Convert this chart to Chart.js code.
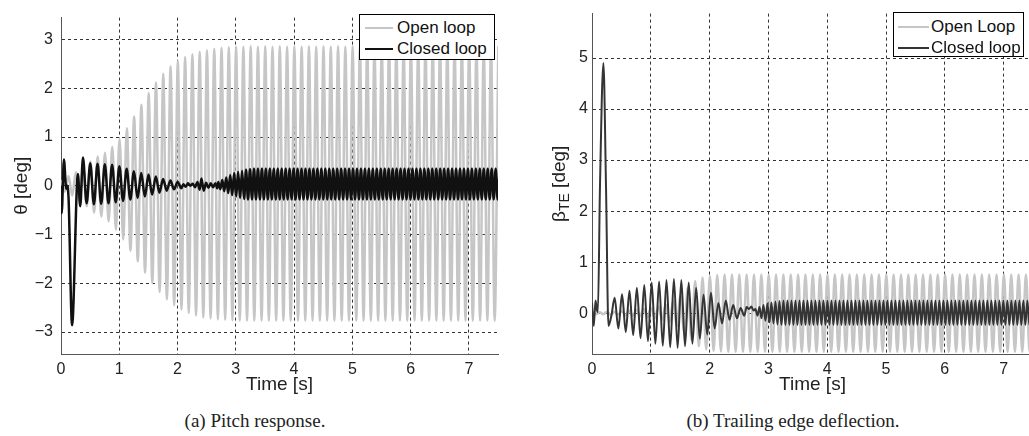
<!DOCTYPE html>
<html>
<head>
<meta charset="utf-8">
<script src="https://cdn.jsdelivr.net/npm/chart.js@4.4.0/dist/chart.umd.min.js"></script>
<style>
  html, body { margin: 0; padding: 0; background: #fff; overflow: hidden; }
  body { position: relative; width: 1029px; height: 436px; }
  canvas { position: absolute; top: 0; }
  .legend { position: absolute; background: #fff; border: 1px solid #000; box-sizing: border-box;
            font: 17px "Liberation Sans", Arial, sans-serif; color: #111; }
  .legend .row { position: absolute; left: 0; right: 0; height: 20px; line-height: 20px; white-space: nowrap; }
  .legend .swatch { position: absolute; top: 9px; height: 0; border-top: 2px solid; }
  .legend .label { position: absolute; top: 0; }
  .caption { position: absolute; top: 410px; font: 19px "Liberation Serif", "Times New Roman", serif;
             color: #222; transform: translateX(-50%); white-space: nowrap; }
</style>
</head>
<body>
<canvas id="pitch" width="510" height="400" style="left:0;width:510px;height:400px"></canvas>
<canvas id="te" width="520" height="400" style="left:520px;width:520px;height:400px"></canvas>
<div class="caption" style="left:255px">(a) Pitch response.</div>
<div class="caption" style="left:793px">(b) Trailing edge deflection.</div>
<script>
// ---- axes ----
const timeTicks = [0, 1, 2, 3, 4, 5, 6, 7];
const pitchTicks = [-3, -2, -1, 0, 1, 2, 3];
const teTicks = [0, 1, 2, 3, 4, 5];

// ---- pitch response, open loop: one peak and one trough per cycle ----
const openStart = 0.005;
const openPeriod = 0.125;
const openPitchPeaks = [
  0.12, 0.20, 0.28, 0.38, 0.50, 0.60, 0.68, 0.80, 0.96, 1.18,
  1.42, 1.66, 1.90, 2.12, 2.30, 2.45, 2.56, 2.64, 2.70, 2.75,
  2.78, 2.81, 2.83, 2.84, 2.85, 2.85, 2.86, 2.85, 2.86, 2.85,
  2.86, 2.85, 2.86, 2.85, 2.86, 2.85, 2.86, 2.85, 2.86, 2.85,
  2.86, 2.85, 2.86, 2.85, 2.86, 2.85, 2.86, 2.85, 2.86, 2.85,
  2.86, 2.85, 2.86, 2.85, 2.86, 2.85, 2.86, 2.85, 2.86, 2.85,
  2.86
];
const openPitchTroughs = [
  -0.12, -0.20, -0.30, -0.42, -0.55, -0.63, -0.73, -0.90, -1.10, -1.33,
  -1.55, -1.78, -2.00, -2.18, -2.33, -2.45, -2.54, -2.61, -2.66, -2.70,
  -2.72, -2.74, -2.75, -2.76, -2.77, -2.77, -2.77, -2.77, -2.77, -2.77,
  -2.77, -2.77, -2.77, -2.77, -2.77, -2.77, -2.77, -2.77, -2.77, -2.77,
  -2.77, -2.77, -2.77, -2.77, -2.77, -2.77, -2.77, -2.77, -2.77, -2.77,
  -2.77, -2.77, -2.77, -2.77, -2.77, -2.77, -2.77, -2.77, -2.77, -2.77
];

// ---- pitch response, closed loop ----
const closedPitchEarlyT = [0, 0.012, 0.05, 0.09, 0.105, 0.13, 0.19, 0.29, 0.33];
const closedPitchEarlyY = [0, -0.56, 0.54, -0.06, 0.0, -0.26, -2.86, 0.24, -0.42];
const closedPitchDecayStart = 0.377;
const closedPitchDecayPeaks = [0.58, 0.46, 0.45, 0.44, 0.43, 0.40, 0.35, 0.30, 0.26, 0.23, 0.19, 0.14, 0.11, 0.08];
const closedPitchDecayTroughs = [-0.36, -0.38, -0.37, -0.36, -0.34, -0.31, -0.28, -0.25, -0.22, -0.18, -0.14, -0.10, -0.07, -0.05];
const closedPitchQuietT = [2.10, 2.14, 2.18, 2.22, 2.26, 2.30, 2.34, 2.38, 2.41, 2.45, 2.49, 2.53, 2.57, 2.61, 2.65, 2.68];
const closedPitchQuietY = [0.03, -0.02, 0.05, 0.00, 0.04, -0.03, 0.08, -0.08, 0.15, -0.10, 0.06, -0.04, 0.05, -0.03, 0.05, -0.05];
const fastPeriod = 0.068;
const closedPitchFastStart = 2.70;
const closedPitchFastPeaks = [
  0.08, 0.12, 0.17, 0.22, 0.26, 0.29, 0.31, 0.33, 0.34, 0.35,
  0.35, 0.35, 0.35, 0.35, 0.35, 0.35, 0.35, 0.35, 0.35, 0.35,
  0.35, 0.35, 0.35, 0.35, 0.35, 0.35, 0.35, 0.35, 0.35, 0.35,
  0.35, 0.35, 0.35, 0.35, 0.35, 0.35, 0.35, 0.35, 0.35, 0.35,
  0.35, 0.35, 0.35, 0.35, 0.35, 0.35, 0.35, 0.35, 0.35, 0.35,
  0.35, 0.35, 0.35, 0.35, 0.35, 0.35, 0.35, 0.35, 0.35, 0.35,
  0.35, 0.35, 0.35, 0.35, 0.35, 0.35, 0.35, 0.35, 0.35, 0.35,
  0.35, 0.35
];
const closedPitchFastTroughs = [
  -0.07, -0.11, -0.15, -0.19, -0.22, -0.25, -0.27, -0.28, -0.28, -0.28,
  -0.28, -0.28, -0.28, -0.28, -0.28, -0.28, -0.28, -0.28, -0.28, -0.28,
  -0.28, -0.28, -0.28, -0.28, -0.28, -0.28, -0.28, -0.28, -0.28, -0.28,
  -0.28, -0.28, -0.28, -0.28, -0.28, -0.28, -0.28, -0.28, -0.28, -0.28,
  -0.28, -0.28, -0.28, -0.28, -0.28, -0.28, -0.28, -0.28, -0.28, -0.28,
  -0.28, -0.28, -0.28, -0.28, -0.28, -0.28, -0.28, -0.28, -0.28, -0.28,
  -0.28, -0.28, -0.28, -0.28, -0.28, -0.28, -0.28, -0.28, -0.28, -0.28,
  -0.28
];

// ---- trailing edge deflection, open loop ----
const openTEPeaks = [
  0.02, 0.02, 0.03, 0.03, 0.04, 0.05, 0.06, 0.08, 0.10, 0.13,
  0.17, 0.24, 0.35, 0.50, 0.63, 0.70, 0.73, 0.75, 0.76, 0.76,
  0.76, 0.76, 0.76, 0.76, 0.76, 0.76, 0.76, 0.76, 0.76, 0.76,
  0.76, 0.76, 0.76, 0.76, 0.76, 0.76, 0.76, 0.76, 0.76, 0.76,
  0.76, 0.76, 0.76, 0.76, 0.76, 0.76, 0.76, 0.76, 0.76, 0.76,
  0.76, 0.76, 0.76, 0.76, 0.76, 0.76, 0.76, 0.76, 0.76, 0.76,
  0.76
];
const openTETroughs = [
  -0.02, -0.02, -0.03, -0.03, -0.04, -0.05, -0.06, -0.08, -0.10, -0.13,
  -0.18, -0.26, -0.38, -0.53, -0.65, -0.71, -0.74, -0.75, -0.76, -0.76,
  -0.76, -0.76, -0.76, -0.76, -0.76, -0.76, -0.76, -0.76, -0.76, -0.76,
  -0.76, -0.76, -0.76, -0.76, -0.76, -0.76, -0.76, -0.76, -0.76, -0.76,
  -0.76, -0.76, -0.76, -0.76, -0.76, -0.76, -0.76, -0.76, -0.76, -0.76,
  -0.76, -0.76, -0.76, -0.76, -0.76, -0.76, -0.76, -0.76, -0.76, -0.76
];

// ---- trailing edge deflection, closed loop ----
const closedTEEarlyT = [0, 0.03, 0.06, 0.085, 0.10, 0.136, 0.194, 0.238, 0.28, 0.33];
const closedTEEarlyY = [0.2, -0.25, 0.25, 0.05, 0.02, 2.5, 4.9, 2.5, -0.25, -0.05];
const closedTEDecayStart = 0.385;
const closedTEDecayPeriod = 0.126;
const closedTEDecayPeaks = [0.30, 0.37, 0.44, 0.50, 0.55, 0.60, 0.62, 0.65, 0.67, 0.65, 0.60, 0.50, 0.36, 0.40, 0.20, 0.25, 0.16, 0.10];
const closedTEDecayTroughs = [-0.30, -0.37, -0.43, -0.49, -0.55, -0.60, -0.64, -0.67, -0.68, -0.65, -0.60, -0.50, -0.42, -0.30, -0.20, -0.13, -0.10, -0.05];
const closedTEQuietT = [2.63, 2.67, 2.71, 2.75];
const closedTEQuietY = [0.12, 0.08, 0.13, 0.05];
const closedTEFastStart = 2.78;
const closedTEFastPeaks = [
  0.08, 0.12, 0.16, 0.19, 0.21, 0.23, 0.24, 0.25, 0.25, 0.25,
  0.25, 0.25, 0.25, 0.25, 0.25, 0.25, 0.25, 0.25, 0.25, 0.25,
  0.25, 0.25, 0.25, 0.25, 0.25, 0.25, 0.25, 0.25, 0.25, 0.25,
  0.25, 0.25, 0.25, 0.25, 0.25, 0.25, 0.25, 0.25, 0.25, 0.25,
  0.25, 0.25, 0.25, 0.25, 0.25, 0.25, 0.25, 0.25, 0.25, 0.25,
  0.25, 0.25, 0.25, 0.25, 0.25, 0.25, 0.25, 0.25, 0.25, 0.25,
  0.25, 0.25, 0.25, 0.25, 0.25, 0.25, 0.25, 0.25, 0.25, 0.25,
  0.25
];
const closedTEFastTroughs = [
  -0.05, -0.10, -0.15, -0.18, -0.20, -0.22, -0.23, -0.23, -0.23, -0.23,
  -0.23, -0.23, -0.23, -0.23, -0.23, -0.23, -0.23, -0.23, -0.23, -0.23,
  -0.23, -0.23, -0.23, -0.23, -0.23, -0.23, -0.23, -0.23, -0.23, -0.23,
  -0.23, -0.23, -0.23, -0.23, -0.23, -0.23, -0.23, -0.23, -0.23, -0.23,
  -0.23, -0.23, -0.23, -0.23, -0.23, -0.23, -0.23, -0.23, -0.23, -0.23,
  -0.23, -0.23, -0.23, -0.23, -0.23, -0.23, -0.23, -0.23, -0.23, -0.23,
  -0.23, -0.23, -0.23, -0.23, -0.23, -0.23, -0.23, -0.23, -0.23, -0.23
];

// peaks at t0 + k*period, troughs half a period later
function cycles(t0, period, peaks, troughs) {
  const pts = [];
  peaks.forEach((p, k) => {
    pts.push({ x: t0 + k * period, y: p });
    if (k < troughs.length) pts.push({ x: t0 + (k + 0.5) * period, y: troughs[k] });
  });
  return pts;
}
function pairs(ts, ys) {
  return ts.map((t, i) => ({ x: t, y: ys[i] }));
}

const openPitch = cycles(openStart, openPeriod, openPitchPeaks, openPitchTroughs);
const closedPitch = [].concat(
  pairs(closedPitchEarlyT, closedPitchEarlyY),
  cycles(closedPitchDecayStart, openPeriod, closedPitchDecayPeaks, closedPitchDecayTroughs),
  pairs(closedPitchQuietT, closedPitchQuietY),
  cycles(closedPitchFastStart, fastPeriod, closedPitchFastPeaks, closedPitchFastTroughs)
);
const openTE = cycles(openStart, openPeriod, openTEPeaks, openTETroughs);
const closedTE = [].concat(
  pairs(closedTEEarlyT, closedTEEarlyY),
  cycles(closedTEDecayStart, closedTEDecayPeriod, closedTEDecayPeaks, closedTEDecayTroughs),
  pairs(closedTEQuietT, closedTEQuietY),
  cycles(closedTEFastStart, fastPeriod, closedTEFastPeaks, closedTEFastTroughs)
);

const FONT = '"Liberation Sans", Arial, sans-serif';

// x label under the axis and rotated y label (with optional subscript)
const axisTitles = {
  id: 'axisTitles',
  afterDraw(chart, args, o) {
    const ctx = chart.ctx, a = chart.chartArea;
    ctx.save();
    ctx.fillStyle = '#222';
    ctx.textBaseline = 'middle';
    ctx.textAlign = 'center';
    ctx.font = '19px ' + FONT;
    ctx.fillText(o.xText, (a.left + a.right) / 2, o.xY);

    ctx.translate(o.yX, (a.top + a.bottom) / 2);
    ctx.rotate(-Math.PI / 2);
    ctx.textAlign = 'left';
    let total = 0;
    o.yParts.forEach(p => { ctx.font = p.size + 'px ' + FONT; total += ctx.measureText(p.text).width; });
    let x = -total / 2;
    o.yParts.forEach(p => {
      ctx.font = p.size + 'px ' + FONT;
      ctx.fillText(p.text, x, p.dy || 0);
      x += ctx.measureText(p.text).width;
    });
    ctx.restore();
  }
};

function makeChart(id, cfg) {
  return new Chart(document.getElementById(id), {
    type: 'line',
    data: {
      datasets: [
        { label: cfg.labels[0], data: cfg.open, borderColor: '#c6c6c6', borderWidth: 2.5, order: 1 },
        { label: cfg.labels[1], data: cfg.closed, borderColor: cfg.closedColor, borderWidth: cfg.closedWidth, order: 0 }
      ]
    },
    options: {
      responsive: false,
      animation: false,
      parsing: false,
      layout: { padding: cfg.padding },
      elements: {
        point: { radius: 0 },
        line: { cubicInterpolationMode: 'monotone', borderJoinStyle: 'round', fill: false }
      },
      plugins: {
        legend: { display: false },
        tooltip: { enabled: false },
        axisTitles: cfg.titles
      },
      scales: {
        x: {
          type: 'linear', min: 0, max: 7.5,
          afterBuildTicks: s => { s.ticks = timeTicks.map(v => ({ value: v })); },
          afterFit: s => { s.height = 46; },
          grid: { color: '#333', lineWidth: 1, drawTicks: false },
          border: { color: '#555', width: 1, dash: [3, 3] },
          ticks: { color: '#222', padding: 6, maxRotation: 0, autoSkip: false, font: { family: FONT, size: 16 } }
        },
        y: {
          type: 'linear', min: cfg.yMin, max: cfg.yMax,
          afterBuildTicks: s => { s.ticks = cfg.yTicks.map(v => ({ value: v })); },
          afterFit: s => { s.width = cfg.yWidth; },
          grid: { color: '#333', lineWidth: 1, drawTicks: false },
          border: { color: '#555', width: 1, dash: [3, 3] },
          ticks: {
            color: '#222', padding: cfg.yPad, font: { family: FONT, size: 16 },
            callback: v => (v < 0 ? '\u2212' + Math.abs(v) : String(v))
          }
        }
      }
    },
    plugins: [axisTitles]
  });
}

function drawLegend(chart, box) {
  const el = document.createElement('div');
  el.className = 'legend';
  Object.assign(el.style, { left: box.left + 'px', top: box.top + 'px', width: box.width + 'px', height: box.height + 'px' });
  chart.data.datasets.forEach((ds, i) => {
    const row = document.createElement('div');
    row.className = 'row';
    row.style.top = box.rows[i] + 'px';
    const sw = document.createElement('span');
    sw.className = 'swatch';
    Object.assign(sw.style, { left: box.lineX + 'px', width: box.lineW + 'px', borderTopColor: ds.borderColor });
    const lb = document.createElement('span');
    lb.className = 'label';
    lb.style.left = box.textX + 'px';
    lb.textContent = ds.label;
    row.append(sw, lb);
    el.appendChild(row);
  });
  document.body.appendChild(el);
}

const pitchChart = makeChart('pitch', {
  labels: ['Open loop', 'Closed loop'],
  open: openPitch, closed: closedPitch,
  closedColor: '#111', closedWidth: 2.5,
  yMin: -3.45, yMax: 3.45, yTicks: pitchTicks,
  yWidth: 61, yPad: 8,
  padding: { left: 0, right: 12, top: 9, bottom: 0 },
  titles: { xText: 'Time [s]', xY: 385, yX: 22, yParts: [{ text: '\u03b8 [deg]', size: 19 }] }
});

const teChart = makeChart('te', {
  labels: ['Open Loop', 'Closed loop'],
  open: openTE, closed: closedTE,
  closedColor: '#353535', closedWidth: 2,
  yMin: -0.8, yMax: 5.87, yTicks: teTicks,
  yWidth: 72, yPad: 4,
  padding: { left: 0, right: 7, top: 7, bottom: 0 },
  titles: {
    xText: 'Time [s]', xY: 385, yX: 40,
    yParts: [{ text: '\u03b2', size: 19 }, { text: 'TE', size: 14, dy: 5 }, { text: ' [deg]', size: 19 }]
  }
});

drawLegend(pitchChart, { left: 359, top: 14, width: 136, height: 46, lineX: 5, lineW: 28, textX: 37, rows: [3, 24] });
drawLegend(teChart, { left: 893, top: 12, width: 131, height: 45, lineX: 4, lineW: 31, textX: 37, rows: [4, 25] });
</script>
</body>
</html>
